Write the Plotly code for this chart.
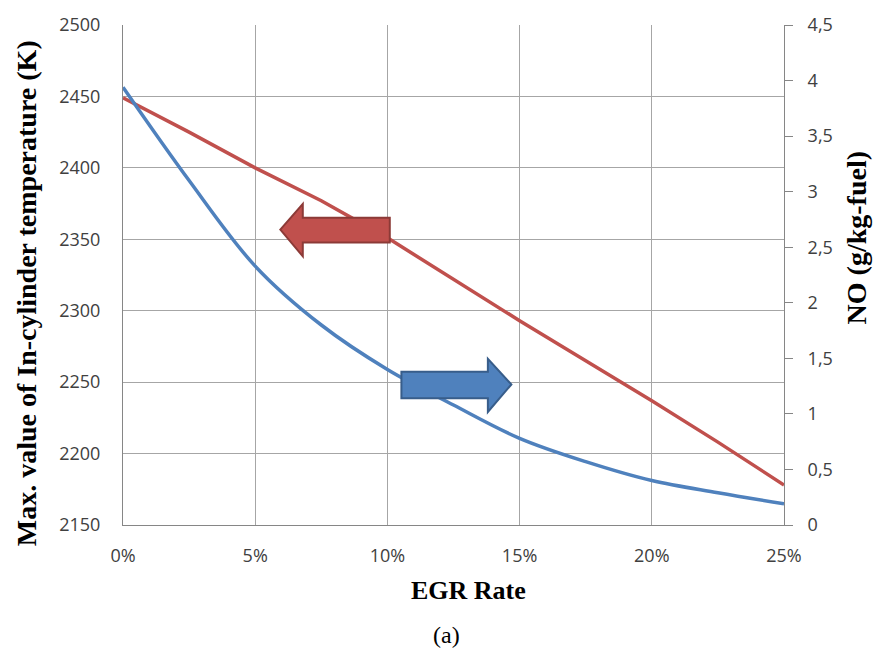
import plotly.graph_objects as go

# EGR rate (%) sampled every 2.5 %
egr_rate = [0, 2.5, 5, 7.5, 10, 12.5, 15, 17.5, 20, 22.5, 25]
# Maximum in-cylinder temperature (K), left axis
max_temp = [2449, 2425, 2400, 2377, 2351, 2322, 2293, 2265, 2237, 2208, 2178]
# NO emission (g/kg-fuel), right axis
no_emission = [3.94, 3.10, 2.33, 1.80, 1.40, 1.08, 0.78, 0.57, 0.40, 0.29, 0.19]

x_ticks = [0, 5, 10, 15, 20, 25]
x_tick_labels = ["0%", "5%", "10%", "15%", "20%", "25%"]
temp_ticks = [2150, 2200, 2250, 2300, 2350, 2400, 2450, 2500]
no_ticks = [0, 0.5, 1, 1.5, 2, 2.5, 3, 3.5, 4, 4.5]

RED = "#C0504D"
BLUE = "#4F81BD"
GRID = "#A6A6A6"
AXIS = "#868686"
TICK_FONT = dict(family="Open Sans", size=18, color="#404040")
TITLE_FONT = dict(family="Liberation Serif", size=28, color="#000000")

fig = go.Figure()
fig.add_trace(go.Scatter(
    x=egr_rate, y=max_temp, mode="lines", name="Max. temperature",
    line=dict(color=RED, width=3.5),
    yaxis="y", showlegend=False,
))
fig.add_trace(go.Scatter(
    x=egr_rate, y=no_emission, mode="lines", name="NO",
    line=dict(color=BLUE, width=3.5, shape="spline", smoothing=1.0),
    yaxis="y2", showlegend=False,
))

# Block arrows pointing to each curve's axis (drawn in x / left-y data units)
red_arrow = ("M 5.95,2356.8 L 6.80,2374.8 L 6.80,2365.1 L 10.09,2365.1 "
             "L 10.09,2347.8 L 6.80,2347.8 L 6.80,2338.1 Z")
blue_arrow = ("M 10.53,2257.2 L 13.80,2257.2 L 13.80,2266.4 L 14.69,2248.4 "
              "L 13.80,2229.1 L 13.80,2238.7 L 10.53,2238.7 Z")
fig.add_shape(type="path", path=red_arrow, xref="x", yref="y",
              fillcolor=RED, line=dict(color="#8C3A37", width=2))
fig.add_shape(type="path", path=blue_arrow, xref="x", yref="y",
              fillcolor=BLUE, line=dict(color="#385D8A", width=2))

fig.update_layout(
    width=875, height=651,
    margin=dict(l=123, r=91, t=19, b=126),
    paper_bgcolor="white", plot_bgcolor="white",
    separators=",.",
    xaxis=dict(
        range=[0, 25], tickvals=x_ticks, ticktext=x_tick_labels,
        showgrid=True, gridcolor=GRID, gridwidth=1,
        showline=True, linecolor=AXIS, linewidth=1,
        ticks="", tickfont=TICK_FONT, ticklabelstandoff=14,
        zeroline=False,
    ),
    yaxis=dict(
        range=[2150, 2500], tickvals=temp_ticks,
        showgrid=True, gridcolor=GRID, gridwidth=1,
        showline=True, linecolor=AXIS, linewidth=1,
        ticks="", tickfont=TICK_FONT, ticklabelstandoff=18,
        zeroline=False,
    ),
    yaxis2=dict(
        range=[0, 4.5], tickvals=no_ticks, overlaying="y", side="right",
        showgrid=False, showline=True, linecolor=AXIS, linewidth=1,
        ticks="outside", ticklen=8, tickcolor=AXIS,
        tickfont=TICK_FONT, ticklabelstandoff=11,
        zeroline=False,
    ),
    annotations=[
        dict(text="<b>Max. value of In-cylinder temperature (K)</b>",
             xref="paper", yref="paper", x=-123 / 661, y=(525 - 291) / 506,
             xanchor="left", yanchor="middle", xshift=9, textangle=-90,
             showarrow=False, font=TITLE_FONT),
        dict(text="<b>NO (g/kg-fuel)</b>",
             xref="paper", yref="paper", x=1 + 72 / 661, y=(525 - 235) / 506,
             xanchor="center", yanchor="middle", textangle=-90,
             showarrow=False, font=TITLE_FONT),
        dict(text="<b>EGR Rate</b>",
             xref="paper", yref="paper", x=(468.5 - 123) / 661, y=-(591 - 525) / 506,
             xanchor="center", yanchor="middle",
             showarrow=False, font=dict(family="Liberation Serif", size=26, color="#000000")),
        dict(text="(a)",
             xref="paper", yref="paper", x=(446 - 123) / 661, y=-(636 - 525) / 506,
             xanchor="center", yanchor="middle",
             showarrow=False, font=dict(family="Liberation Serif", size=24, color="#000000")),
    ],
)

fig.write_html("out.html")
